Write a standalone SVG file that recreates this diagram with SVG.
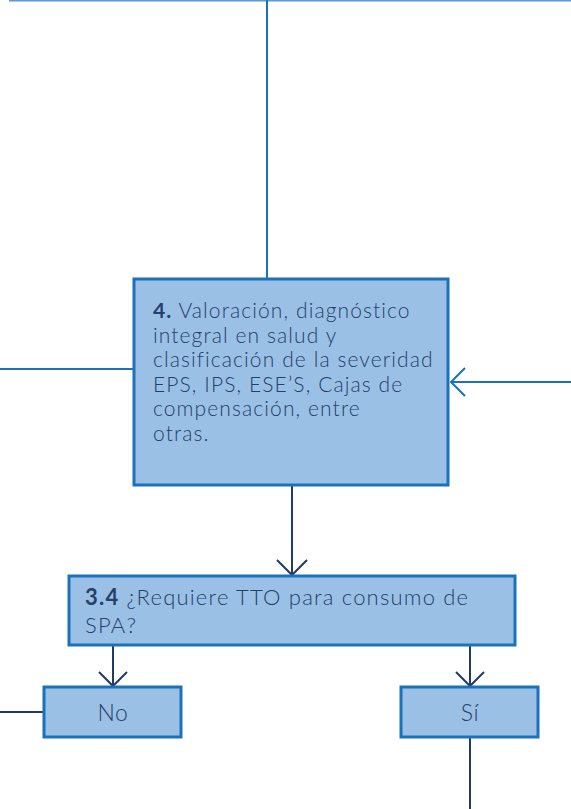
<svg xmlns="http://www.w3.org/2000/svg" width="571" height="809" viewBox="0 0 571 809">
<style>
.box{fill:#9bc0e5;stroke:#1b72bb;stroke-width:3}
.t{font-family:Lato,"Liberation Sans",sans-serif;font-size:21px;font-weight:300;fill:#24406b;letter-spacing:1.1px}
.q{font-size:22px;letter-spacing:1.2px}
.s{font-size:23px;letter-spacing:0.5px}
.b{font-weight:bold}
.blue{stroke:#1b72bb;stroke-width:2;fill:none}
.navy{stroke:#213a66;stroke-width:2;fill:none}
</style>
<g id="connectors">
<line x1="9" y1="0.75" x2="571" y2="0.75" stroke="#5b9bd5" stroke-width="1.5"/>
<line class="blue" x1="267" y1="0" x2="267" y2="279"/>
<line class="blue" x1="0" y1="369" x2="133" y2="369"/>
<line class="blue" x1="571" y1="382" x2="451" y2="382"/>
<polyline class="blue" points="465,368 451,382 465,396"/>
<line class="navy" x1="292" y1="486" x2="292" y2="574"/>
<polyline class="navy" points="277,560 292,575 307,560"/>
<line class="navy" x1="113" y1="646" x2="113" y2="686"/>
<polyline class="navy" points="99,672 113,686 127,672"/>
<line class="navy" x1="470" y1="646" x2="470" y2="686"/>
<polyline class="navy" points="456,672 470,686 484,672"/>
<line class="navy" x1="0" y1="712" x2="44" y2="712"/>
<line class="navy" x1="470" y1="738" x2="470" y2="809"/>
</g>
<g id="node4">
<rect class="box" x="134" y="279" width="314" height="206"/>
<text class="t" x="153" y="318"><tspan class="b">4.</tspan> Valoración, diagnóstico</text>
<text class="t" x="153" y="342.5">integral en salud y</text>
<text class="t" x="153" y="367">clasificación de la severidad</text>
<text class="t" x="153" y="391.5">EPS, IPS, ESE’S, Cajas de</text>
<text class="t" x="153" y="416">compensación, entre</text>
<text class="t" x="153" y="440.5">otras.</text>
</g>
<g id="node34">
<rect class="box" x="69" y="576" width="446" height="69"/>
<text class="t q" x="85" y="605"><tspan class="b">3.4</tspan> ¿Requiere TTO para consumo de</text>
<text class="t q" x="85" y="633">SPA?</text>
</g>
<g id="nodeNo">
<rect class="box" x="44" y="687" width="137" height="50"/>
<text class="t s" x="113" y="721" text-anchor="middle">No</text>
</g>
<g id="nodeSi">
<rect class="box" x="401" y="687" width="137" height="50"/>
<text class="t s" x="470" y="721" text-anchor="middle">Sí</text>
</g>
</svg>
